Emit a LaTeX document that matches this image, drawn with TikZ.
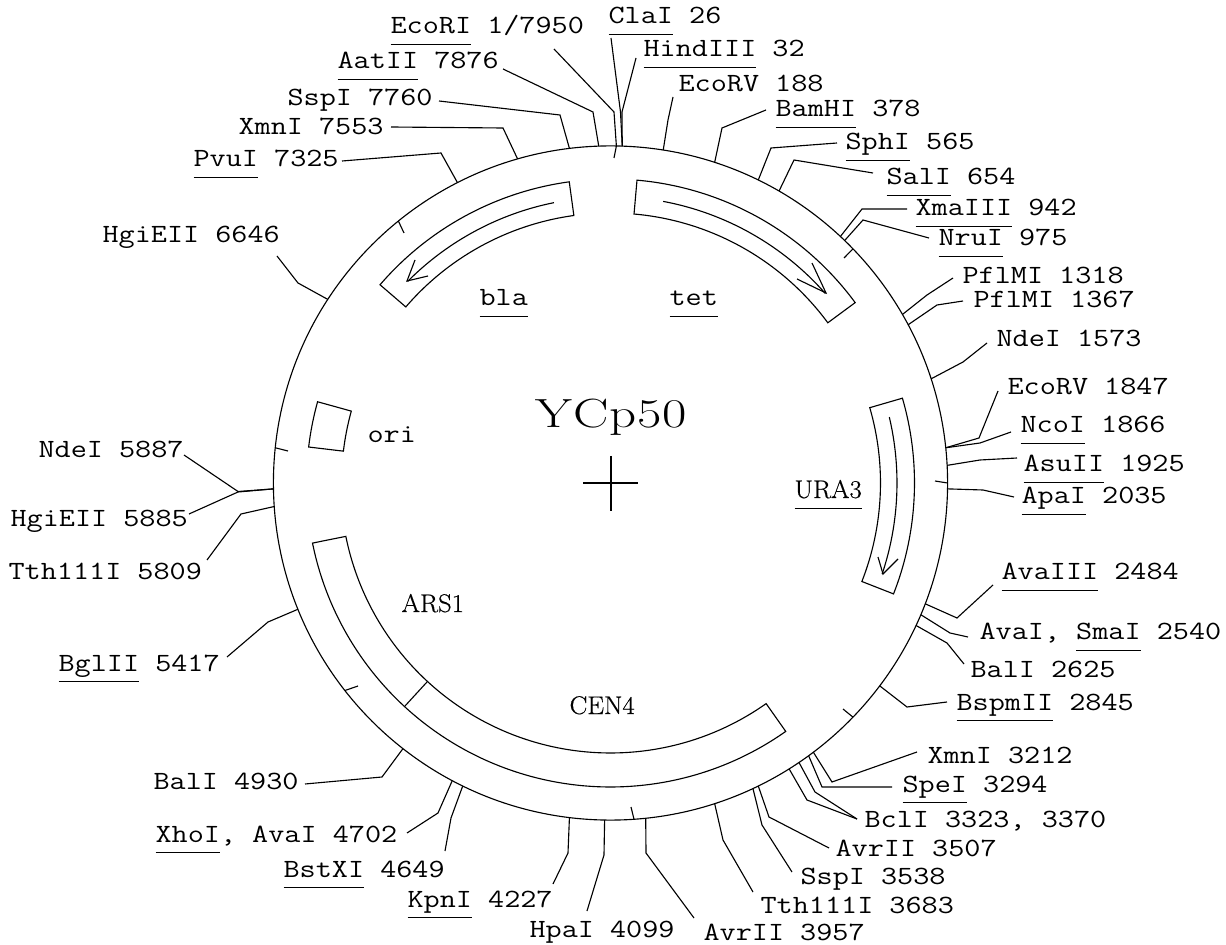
\documentclass[tikz,border=0pt]{standalone}
\usepackage{fontspec}
\setmonofont{Latin Modern Mono}[FakeStretch=1.19]
\newfontfamily\genefont{Latin Modern Roman}[FakeStretch=1.04,FakeBold=0.5]
\newfontfamily\titlefont{Latin Modern Roman}[FakeStretch=1.3,LetterSpace=2]
\newcommand{\und}[1]{$\underline{\hbox{#1\rule[-6pt]{0pt}{0pt}}}$}
% one band of the map, page angles #1 to #2
\newcommand{\band}[4]{\draw[shift={(610.5,483)}] (-#1:#3) arc[start angle=-#1, end angle=-#2, radius=#3] -- (-#2:#4) arc[start angle=-#2, end angle=-#1, radius=#4] -- cycle;}
\begin{document}
\begin{tikzpicture}[x=0.025cm,y=-0.025cm,line width=0.8pt,
		site/.style={anchor=base west,inner sep=0pt,font=\fontsize{18.7}{20}\selectfont\ttfamily},
		gene/.style={anchor=base west,inner sep=0pt,font=\fontsize{18.2}{20}\selectfont\genefont}]
		\useasboundingbox (0,0) rectangle (1226,945);
		\node[circle,draw,inner sep=0pt,outer sep=0pt,minimum size=16.85cm] (ring) at (610.5,483) {};
		\draw (583,483) -- (638,483);
		\draw (611,456) -- (611,511);
		\node[anchor=base west,inner sep=0pt,font=\fontsize{29}{32}\selectfont\titlefont] (title) at (535,428) {YCp50};
		% scale ticks
		\draw (ring.89.4) -- (614,158);
		\draw (ring.44) -- (844,258);
		\draw (ring.0.3) -- (935,481);
		\draw (ring.-44) -- (843,709);
		\draw (ring.-86.5) -- (631,807);
		\draw (ring.218.7) -- (358,686);
		\draw (ring.174.2) -- (288,451);
		\draw (ring.129.5) -- (404,233);
		% bands
		\band{85}{36.4}{304}{270}
		\band{97.8}{139.3}{304}{270}
		\band{16.2}{-21.4}{304}{270}
		\band{164.5}{173.2}{304}{269}
		\band{191.4}{305.2}{304}{270}
		\draw (427,682) -- (405,706);
		% arrows inside the bands
		\draw[shift={(610.5,483)}] (-79.4:286.5) arc[start angle=-79.4, end angle=-41.4, radius=286.5];
		\draw (812,263) -- (826,293) -- (797,279);
		\draw[shift={(610.5,483)}] (-101.4:286) arc[start angle=-101.4, end angle=-135.2, radius=286];
		\draw (415,260) -- (407,281) -- (428,276);
		\draw[shift={(610.5,483)}] (-13.3:286.5) arc[start angle=-13.3, end angle=18.5, radius=286.5];
		\draw (878,557) -- (883,574) -- (898,559);
		% gene names
		\node[site] (bla) at (479,306) {\und{bla}};
		\node[site] (tet) at (669,306) {\und{tet}};
		\node[site] (ori) at (367,443) {ori};
		\node[gene] (URA3) at (794,498) {\und{URA3}};
		\node[gene] (ARS1) at (401,612) {ARS1};
		\node[gene] (CEN4) at (569,714) {CEN4};
		% sites, clockwise from the top
		\node[site] (EcoRI1) at (390,34) {\und{EcoRI} 1/7950};
		\draw (ring.89.4) -- (614,112) -- ([shift={(164,15)}]EcoRI1.base west);
		\node[site] (ClaI26) at (608,24) {\und{ClaI} 26};
		\draw (ring.88.3) -- (620.5,112) -- ([shift={(3,14)}]ClaI26.base west);
		\node[site] (HindIII32) at (643,57) {\und{HindIII} 32};
		\draw (ring.88) -- (622,112) -- ([shift={(-7,1)}]HindIII32.base west);
		\node[site] (EcoRV188) at (678,92) {EcoRV 188};
		\draw (ring.81.2) -- (668,120) -- ([shift={(-5,5)}]EcoRV188.base west);
		\node[site] (BamHI378) at (775,117) {\und{BamHI} 378};
		\draw (ring.72.5) -- (722,128) -- ([shift={(-9,-7)}]BamHI378.base west);
		\node[site] (SphI565) at (845,150) {\und{SphI} 565};
		\draw (ring.64.3) -- (771,148) -- ([shift={(-8,-7)}]SphI565.base west);
		\node[site] (SalI654) at (886,185) {\und{SalI} 654};
		\draw (ring.60.3) -- (794,160) -- ([shift={(-13,-12)}]SalI654.base west);
		\node[site] (XmaIII942) at (915,216) {\und{XmaIII} 942};
		\draw (ring.47.7) -- (862,209) -- ([shift={(-8,-7)}]XmaIII942.base west);
		\node[site] (NruI975) at (938,246) {\und{NruI} 975};
		\draw (ring.46.1) -- (863,220) -- ([shift={(-9,-8)}]NruI975.base west);
		\node[site] (PflMI1318) at (962,284) {PflMI 1318};
		\draw (ring.30.8) -- (927,295) -- ([shift={(-9,-6)}]PflMI1318.base west);
		\node[site] (PflMI1367) at (973,308) {PflMI 1367};
		\draw (ring.28.7) -- (937,305) -- ([shift={(-10,-7)}]PflMI1367.base west);
		\node[site] (NdeI1573) at (996,347) {NdeI 1573};
		\draw (ring.18.9) -- (963,362) -- ([shift={(-9,-4)}]NdeI1573.base west);
		\node[site] (EcoRV1847) at (1007,395) {EcoRV 1847};
		\draw (ring.6.8) -- (979,438) -- ([shift={(-9,-4)}]EcoRV1847.base west);
		\node[site] (NcoI1866) at (1020,433) {\und{NcoI} 1866};
		\draw (ring.6.1) -- (980,443) -- ([shift={(-9,-1)}]NcoI1866.base west);
		\node[site] (AsuII1925) at (1023,472) {\und{AsuII} 1925};
		\draw (ring.3.4) -- (980,460) -- ([shift={(-6,-14)}]AsuII1925.base west);
		\node[site] (ApaI2035) at (1021,504) {\und{ApaI} 2035};
		\draw (ring.-1) -- (983,490) -- ([shift={(-7,-7)}]ApaI2035.base west);
		\node[site] (AvaIII2484) at (1001,580) {\und{AvaIII} 2484};
		\draw (ring.-21.5) -- (957,618) -- ([shift={(-8,5)}]AvaIII2484.base west);
		\node[site] (SmaI2540) at (979,640) {AvaI, \und{SmaI} 2540};
		\draw (ring.-23.9) -- (950,633) -- ([shift={(-11,-3)}]SmaI2540.base west);
		\node[site] (BalI2625) at (970,677) {BalI 2625};
		\draw (ring.-25.2) -- (947,643) -- ([shift={(-6,-13)}]BalI2625.base west);
		\node[site] (BspmII2845) at (956,710) {\und{BspmII} 2845};
		\draw (ring.-37.3) -- (907,707) -- ([shift={(-9,-8)}]BspmII2845.base west);
		\node[site] (XmnI3212) at (927,763) {XmnI 3212};
		\draw (ring.-53.5) -- (832,782) -- ([shift={(-10,-11)}]XmnI3212.base west);
		\node[site] (SpeI3294) at (902,792) {\und{SpeI} 3294};
		\draw (ring.-54.9) -- (822,787) -- ([shift={(-10,-5)}]SpeI3294.base west);
		\node[site] (BclI3323) at (864,827) {BclI 3323, 3370};
		\draw (ring.-56.4) -- (815,792) -- ([shift={(-7,-8)}]BclI3323.base west);
		\draw (ring.-58.6) -- (807,800) -- ([shift={(-7,-8)}]BclI3323.base west);
		\node[site] (AvrII3507) at (835,856) {AvrII 3507};
		\draw (ring.-64.6) -- (769,817) -- ([shift={(-6,-8)}]AvrII3507.base west);
		\node[site] (SspI3538) at (800,884) {SspI 3538};
		\draw (ring.-65.9) -- (762,825) -- ([shift={(-8,-12)}]SspI3538.base west);
		\node[site] (Tth3683) at (760,913) {Tth111I 3683};
		\draw (ring.-72.2) -- (723,840) -- ([shift={(-7,-21)}]Tth3683.base west);
		\node[site] (AvrII3957) at (703,940) {AvrII 3957};
		\draw (ring.-84.7) -- (646,853) -- ([shift={(-9,-22)}]AvrII3957.base west);
		\node[site] (HpaI4099) at (529,937) {HpaI 4099};
		\draw (ring.269.1) -- (604,855) -- ([shift={(58,-26)}]HpaI4099.base west);
		\node[site] (KpnI4227) at (407,907) {\und{KpnI} 4227};
		\draw (ring.263.5) -- (568,853) -- ([shift={(146,-23)}]KpnI4227.base west);
		\node[site] (BstXI4649) at (283,877) {\und{BstXI} 4649};
		\draw (ring.244.7) -- (451,818) -- ([shift={(162,-26)}]BstXI4649.base west);
		\node[site] (XhoI4702) at (155,842) {\und{XhoI}, AvaI 4702};
		\draw (ring.242.3) -- (438,813) -- ([shift={(252,-9)}]XhoI4702.base west);
		\node[site] (BalI4930) at (153,789) {BalI 4930};
		\draw (ring.232.2) -- (382,777) -- ([shift={(152,-5)}]BalI4930.base west);
		\node[site] (BglII5417) at (58,671) {\und{BglII} 5417};
		\draw (ring.202.4) -- (268,622) -- ([shift={(169,-14)}]BglII5417.base west);
		\node[site] (Tth5809) at (8,579) {Tth111I 5809};
		\draw (ring.184.8) -- (241,514) -- ([shift={(199,-19)}]Tth5809.base west);
		\node[site] (HgiEII5885) at (10,526) {HgiEII 5885};
		\draw (ring.181.7) -- (238,492) -- ([shift={(179,-12)}]HgiEII5885.base west);
		\node[site] (NdeI5887) at (38,458) {NdeI 5887};
		\draw (ring.181.4) -- (238,491.5) -- ([shift={(146,-3)}]NdeI5887.base west);
		\node[site] (HgiEII6646) at (102,243) {HgiEII 6646};
		\draw (ring.147.4) -- (298,283) -- ([shift={(175,13)}]HgiEII6646.base west);
		\node[site] (PvuI7325) at (193,167) {\und{PvuI} 7325};
		\draw (ring.117.2) -- (441,153) -- ([shift={(149,-6)}]PvuI7325.base west);
		\node[site] (XmnI7553) at (238,135) {XmnI 7553};
		\draw (ring.106.9) -- (503,128) -- ([shift={(153,-8)}]XmnI7553.base west);
		\node[site] (SspI7760) at (287,106) {SspI 7760};
		\draw (ring.97.7) -- (560,115) -- ([shift={(152,-5)}]SspI7760.base west);
		\node[site] (AatII7876) at (337,69) {\und{AatII} 7876};
		\draw (ring.92.8) -- (593,112) -- ([shift={(166,0)}]AatII7876.base west);
	\end{tikzpicture}
\end{document}
